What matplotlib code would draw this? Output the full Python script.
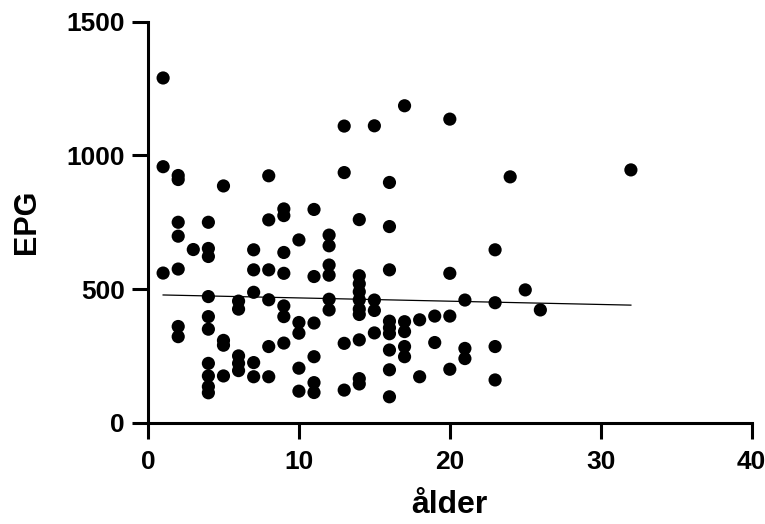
import numpy as np
import matplotlib
matplotlib.use('Agg')
import matplotlib.pyplot as plt

plt.rcParams['font.family'] = ['Liberation Sans', 'DejaVu Sans']
plt.rcParams['font.weight'] = 'bold'

# age (x) and EPG (y)
alder = [1, 1, 1,
         2, 2, 2, 2, 2, 2, 2,
         3,
         4, 4, 4, 4, 4, 4, 4, 4, 4, 4,
         5, 5, 5, 5,
         6, 6, 6, 6, 6,
         7, 7, 7, 7, 7,
         8, 8, 8, 8, 8, 8,
         9, 9, 9, 9, 9, 9, 9,
         10, 10, 10, 10, 10,
         11, 11, 11, 11, 11, 11,
         12, 12, 12, 12, 12, 12,
         13, 13, 13, 13,
         14, 14, 14, 14, 14, 14, 14, 14, 14, 14,
         15, 15, 15, 15,
         16, 16, 16, 16, 16, 16, 16, 16, 16,
         17, 17, 17, 17, 17,
         18, 18,
         19, 19,
         20, 20, 20, 20,
         21, 21, 21,
         23, 23, 23, 23,
         24, 25, 26, 32]
epg = [1290, 958, 560,
       925, 910, 750, 698, 575, 360, 322,
       648,
       750, 652, 622, 472, 397, 350, 222, 175, 135, 112,
       886, 308, 290, 175,
       455, 425, 250, 222, 195,
       647, 572, 488, 225, 172,
       924, 759, 572, 460, 285, 172,
       800, 775, 637, 559, 437, 397, 298,
       684, 375, 335, 204, 118,
       798, 547, 373, 247, 150, 113,
       702, 662, 590, 552, 462, 422,
       1110, 936, 297, 122,
       760, 550, 520, 490, 460, 425, 405, 310, 165, 145,
       1111, 459, 420, 336,
       899, 734, 572, 380, 355, 333, 272, 198, 97,
       1186, 378, 341, 285, 247,
       385, 172,
       399, 300,
       1136, 559, 399, 200,
       459, 278, 240,
       647, 449, 285, 160,
       920, 497, 422, 946]

# regression line as drawn in the reference (end points)
fit_x = [1, 32]
fit_y = [478, 440]

fig = plt.figure(figsize=(7.65, 5.24), dpi=100)
ax = fig.add_axes([0.1935, 0.1933, 0.789, 0.765])

ax.scatter(alder, epg, s=90, color='black', edgecolors='none', zorder=3, clip_on=False)
ax.plot(fit_x, fit_y, color='black', lw=0.9, zorder=2)

ax.set_xlim(0, 40)
ax.set_ylim(0, 1500)
ax.set_xticks([0, 10, 20, 30, 40])
ax.set_yticks([0, 500, 1000, 1500])

for s in ['top', 'right']:
    ax.spines[s].set_visible(False)
for s in ['left', 'bottom']:
    ax.spines[s].set_linewidth(2.2)

ax.tick_params(axis='both', width=2.2, length=11.5, labelsize=19)
ax.tick_params(axis='x', pad=8)
ax.tick_params(axis='y', pad=5)
for lab in ax.get_xticklabels() + ax.get_yticklabels():
    lab.set_fontweight('bold')

ax.set_xlabel('ålder', fontsize=23, fontweight='bold', labelpad=12)
ax.set_ylabel('EPG', fontsize=22, fontweight='bold', labelpad=18)

fig.savefig('out.png', dpi=100)
